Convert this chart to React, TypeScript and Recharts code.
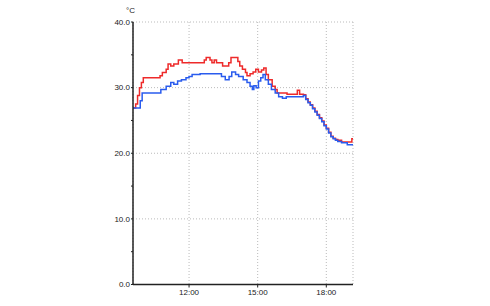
import React from "react";
import {
  LineChart,
  Line,
  XAxis,
  YAxis,
  CartesianGrid,
  ReferenceLine,
} from "recharts";

// time in minutes since midnight, temperature in °C
const redTimes = [
  573, 580, 585, 590, 595, 600, 644, 650, 660, 665, 672, 680, 692, 702, 760,
  765, 775, 780, 786, 792, 808, 824, 830, 842, 848, 853, 860, 868, 872, 880,
  888, 895, 902, 910, 916, 922, 928, 938, 946, 951, 977, 1004, 1010, 1020,
  1026, 1032, 1038, 1044, 1050, 1056, 1062, 1068, 1074, 1080, 1086, 1092,
  1098, 1104, 1110, 1120, 1140, 1147, 1150,
];
const redValues = [
  26.9, 27.5, 28.8, 30.0, 30.8, 31.5, 31.8, 32.3, 32.8, 33.6, 33.3, 33.6, 34.2,
  33.8, 34.2, 34.6, 34.2, 33.8, 34.2, 33.8, 33.3, 33.8, 34.6, 34.6, 34.0, 33.3,
  32.8, 32.3, 31.8, 32.1, 32.4, 32.8, 32.4, 32.7, 33.0, 32.0, 31.2, 30.2, 29.7,
  29.2, 29.0, 29.6, 29.0, 28.9, 28.3, 27.8, 27.4, 26.9, 26.4, 25.9, 25.4, 24.9,
  24.3, 23.8, 23.2, 22.6, 22.3, 22.1, 22.0, 21.7, 21.7, 22.2, 22.2,
];

const blueTimes = [
  573, 588, 592, 597, 646, 660, 672, 680, 690, 700, 712, 720, 728, 749, 805,
  815, 825, 832, 842, 850, 862, 872, 880, 886, 890, 896, 902, 908, 914, 920,
  928, 936, 946, 955, 965, 975, 1015, 1020, 1026, 1032, 1038, 1044, 1050, 1056,
  1062, 1068, 1074, 1080, 1086, 1092, 1098, 1104, 1110, 1120, 1135, 1150,
];
const blueValues = [
  26.9, 26.9, 28.0, 29.2, 29.7, 30.2, 30.8, 30.5, 31.0, 31.2, 31.5, 31.7, 32.0,
  32.1, 31.7, 31.2, 31.7, 32.4, 32.0, 31.7, 31.2, 30.8, 30.2, 29.7, 30.3, 30.0,
  31.0, 31.5, 32.0, 31.2, 30.5, 29.7, 29.2, 28.6, 28.4, 28.6, 28.6, 28.8, 28.2,
  27.7, 27.3, 26.8, 26.3, 25.8, 25.3, 24.8, 24.2, 23.7, 23.1, 22.5, 22.2, 22.0,
  21.8, 21.6, 21.3, 21.3,
];

const xTicks = [720, 900, 1080];
const yTicks = [0, 5, 10, 15, 20, 25, 30, 35, 40];
const yGrid = [10, 20, 30, 40];

const redData = redTimes.map((t, i) => ({ t, v: redValues[i] }));
const blueData = blueTimes.map((t, i) => ({ t, v: blueValues[i] }));

const fmtTime = (m: number) =>
  `${Math.floor(m / 60)}:${String(m % 60).padStart(2, "0")}`;

const tickStyle = {
  fontSize: 8,
  fill: "#222",
  fontFamily: "Liberation Sans, Arial, sans-serif",
};

export default function App() {
  return (
    <div
      style={{
        position: "absolute",
        left: 0,
        top: 0,
        width: 490,
        height: 306,
        background: "#fff",
      }}
    >
      <span
        style={{
          position: "absolute",
          left: 126,
          top: 6,
          fontSize: 8,
          color: "#222",
          fontFamily: "Liberation Sans, Arial, sans-serif",
        }}
      >
        °C
      </span>
      <LineChart
        width={490}
        height={306}
        margin={{ top: 22, right: 137, bottom: 1.5, left: 93 }}
      >
        <CartesianGrid
          horizontal={false}
          stroke="#bbb"
          strokeDasharray="1 2"
        />
        {yGrid.map((v) => (
          <ReferenceLine
            key={v}
            y={v}
            stroke="#bbb"
            strokeDasharray="1 2"
          />
        ))}
        <XAxis
          type="number"
          dataKey="t"
          domain={[573, 1150]}
          ticks={xTicks}
          tickFormatter={fmtTime}
          height={20}
          tickSize={3}
          tickMargin={2}
          tick={tickStyle}
          axisLine={{ stroke: "#222", strokeWidth: 1.5 }}
          tickLine={{ stroke: "#222" }}
          allowDataOverflow
        />
        <YAxis
          type="number"
          domain={[0, 40]}
          ticks={yTicks}
          tickFormatter={(v: number) => (v % 10 === 0 ? v.toFixed(1) : "")}
          width={40}
          tickSize={2}
          tickMargin={1}
          tick={tickStyle}
          axisLine={{ stroke: "#222", strokeWidth: 1.5 }}
          tickLine={{ stroke: "#222" }}
        />
        <Line
          data={redData}
          dataKey="v"
          type="stepAfter"
          stroke="#ee2a2a"
          strokeWidth={1.5}
          dot={false}
          isAnimationActive={false}
        />
        <Line
          data={blueData}
          dataKey="v"
          type="stepAfter"
          stroke="#2a5cee"
          strokeWidth={1.5}
          dot={false}
          isAnimationActive={false}
        />
      </LineChart>
    </div>
  );
}
